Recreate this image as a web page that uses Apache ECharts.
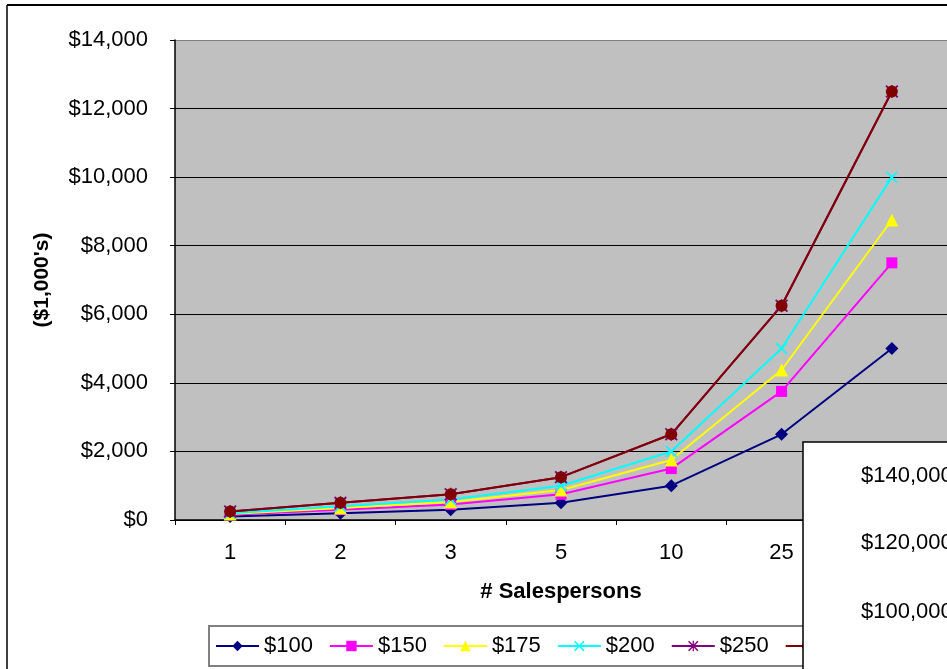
<!DOCTYPE html>
<html>
<head>
<meta charset="utf-8">
<script src="https://cdn.jsdelivr.net/npm/echarts@6/dist/echarts.min.js"></script>
<style>
  html, body { margin: 0; padding: 0; background: #fff; }
  #main { width: 947px; height: 669px; }
</style>
</head>
<body>
<div id="main"></div>
<script>
// categories (# salespersons) and revenue per price level, in $1,000's
const salespersons = ['1', '2', '3', '5', '10', '25', '50'];
const rev100 = [100, 200, 300, 500, 1000, 2500, 5000];
const rev150 = [150, 300, 450, 750, 1500, 3750, 7500];
const rev175 = [175, 350, 525, 875, 1750, 4375, 8750];
const rev200 = [200, 400, 600, 1000, 2000, 5000, 10000];
const rev250 = [250, 500, 750, 1250, 2500, 6250, 12500];
const revSix = [250, 500, 750, 1250, 2500, 6250, 12500];
// labels of the other chart sitting on top (bottom right corner)
const otherTicks = ['$140,000', '$120,000', '$100,000'];

const font = 'Liberation Sans, Arial, sans-serif';

const crossPath = 'path://M0,1L1,0L5,4L9,0L10,1L6,5L10,9L9,10L5,6L1,10L0,9L4,5Z';
const starPath = 'path://M0,1L1,0L5,4L9,0L10,1L6,5L10,9L9,10L5,6L1,10L0,9L4,5Z M4.4,0L5.6,0L5.6,10L4.4,10Z';

function makeLine(name, data, color, symbol, size) {
  return {
    name: name,
    type: 'line',
    data: data,
    symbol: symbol,
    symbolSize: size,
    showAllSymbol: true,
    lineStyle: { color: color, width: 2 },
    itemStyle: { color: color },
    animation: false
  };
}

var myChart = echarts.init(document.getElementById('main'));

let option = {
  backgroundColor: '#fff',
  textStyle: { fontFamily: font },
  grid: { left: 175, top: 40, right: -5, bottom: 149, show: true, backgroundColor: '#c0c0c0', borderWidth: 0 },
  legend: {
    left: 209,
    top: 626,
    orient: 'horizontal',
    backgroundColor: '#fff',
    borderColor: '#808080',
    borderWidth: 2,
    borderRadius: 0,
    padding: [9, 6, 9, 6],
    itemWidth: 43,
    itemHeight: 13,
    itemGap: 16,
    textStyle: { fontSize: 22, color: '#000', fontFamily: font },
    data: ['$100', '$150', '$175', '$200', '$250', 'Series6']
  },
  xAxis: {
    type: 'category',
    data: salespersons,
    boundaryGap: true,
    name: '# Salespersons',
    nameLocation: 'middle',
    nameGap: 61,
    nameTextStyle: { fontSize: 22, fontWeight: 'bold', color: '#000', fontFamily: font },
    axisLine: { lineStyle: { color: '#000', width: 1.5 } },
    axisTick: { show: true, length: 5, inside: false, lineStyle: { color: '#000' } },
    axisLabel: { fontSize: 22, color: '#000', margin: 22, fontFamily: font },
    splitLine: { show: false }
  },
  yAxis: {
    type: 'value',
    min: 0,
    max: 14000,
    interval: 2000,
    name: "($1,000's)",
    nameLocation: 'middle',
    nameGap: 122,
    nameRotate: 90,
    nameTextStyle: { fontSize: 21, fontWeight: 'bold', color: '#000', fontFamily: font },
    axisLine: { show: true, lineStyle: { color: '#000', width: 1.5 } },
    axisTick: { show: true, length: 5, lineStyle: { color: '#000' } },
    axisLabel: {
      fontSize: 22, color: '#000', margin: 27, fontFamily: font,
      formatter: function (v) { return '$' + v.toLocaleString('en-US'); }
    },
    splitLine: {
      show: true,
      lineStyle: { color: ['#000', '#000', '#000', '#000', '#000', '#000', '#000', '#808080'], width: 1 }
    }
  },
  series: [
    makeLine('$100', rev100, '#000080', 'diamond', 13),
    makeLine('$150', rev150, '#ff00ff', 'rect', 11),
    makeLine('$175', rev175, '#ffff00', 'triangle', 13),
    makeLine('$200', rev200, '#00ffff', crossPath, 12),
    makeLine('$250', rev250, '#800080', starPath, 13),
    makeLine('Series6', revSix, '#800000', 'circle', 12)
  ],
  graphic: [
    // outer chart frame
    { type: 'line', z: 100, shape: { x1: 7, y1: 5, x2: 947, y2: 5 }, style: { stroke: '#000', lineWidth: 2 } },
    { type: 'line', z: 100, shape: { x1: 7, y1: 5, x2: 7, y2: 669 }, style: { stroke: '#000', lineWidth: 1.5 } },
    // the other chart overlapping the corner
    { type: 'rect', z: 200, shape: { x: 803, y: 442, width: 160, height: 240 }, style: { fill: '#fff', stroke: '#000', lineWidth: 1.5 } },
    { type: 'text', z: 201, left: 861, top: 465, style: { text: otherTicks[0], fontSize: 22, fill: '#000', fontFamily: font } },
    { type: 'text', z: 201, left: 861, top: 532, style: { text: otherTicks[1], fontSize: 22, fill: '#000', fontFamily: font } },
    { type: 'text', z: 201, left: 861, top: 601, style: { text: otherTicks[2], fontSize: 22, fill: '#000', fontFamily: font } }
  ]
};

myChart.setOption(option);
</script>
</body>
</html>
